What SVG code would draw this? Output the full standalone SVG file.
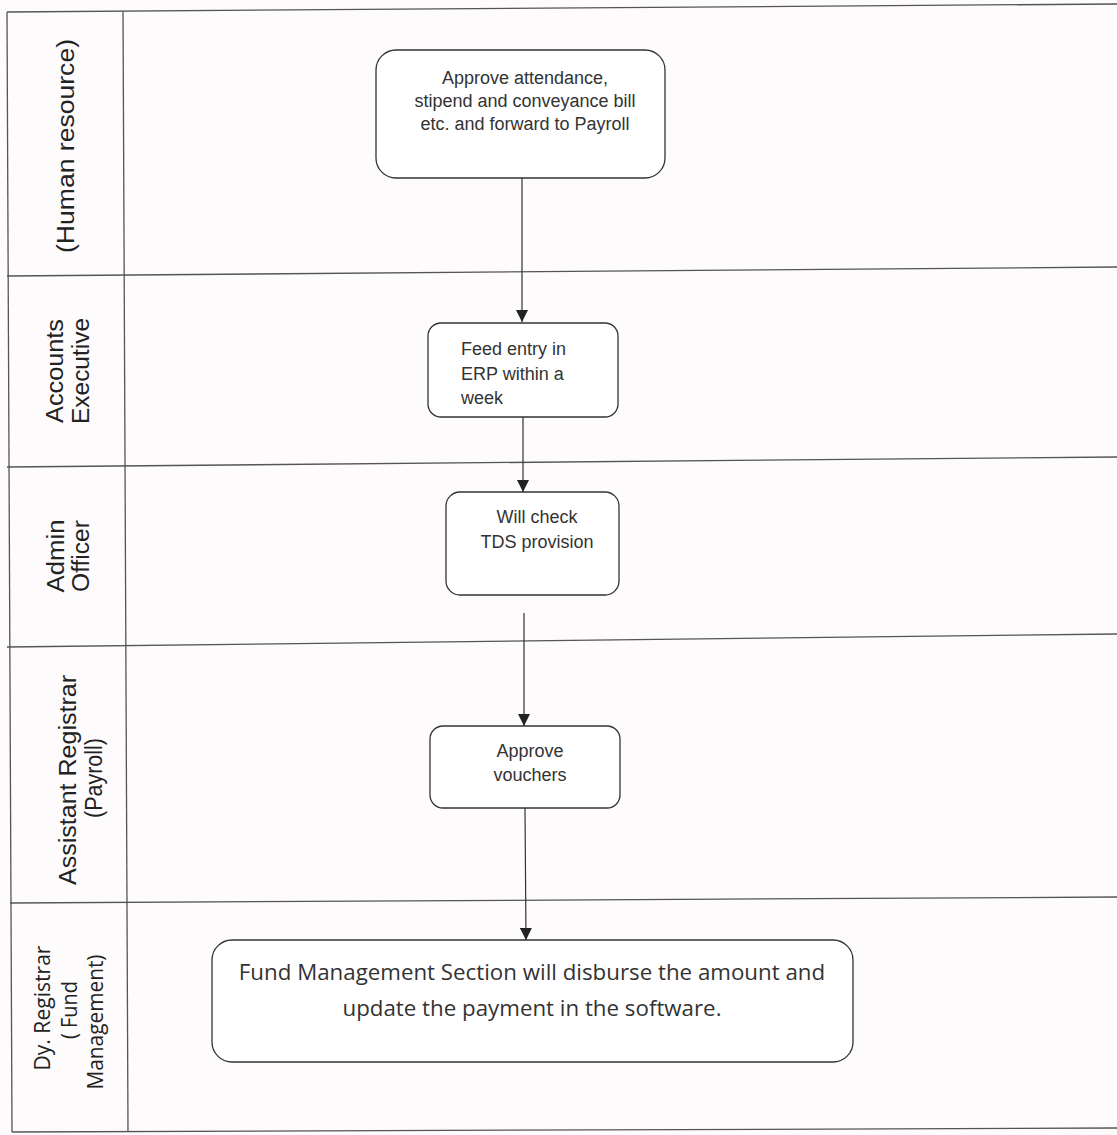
<svg xmlns="http://www.w3.org/2000/svg" width="1117" height="1135" viewBox="0 0 1117 1135">
  <defs>
    <marker id="arrow" markerUnits="userSpaceOnUse" markerWidth="13" markerHeight="12" refX="12" refY="6" orient="auto">
      <path d="M0,0 L12,6 L0,12 z" fill="#222"/>
    </marker>
    <style>
      .grid { stroke: #555; stroke-width: 1.3; fill: none; }
      .box { fill: #ffffff; stroke: #333; stroke-width: 1.3; }
      .conn { stroke: #333; stroke-width: 1.2; fill: none; marker-end: url(#arrow); }
      .lane { font-family: "Liberation Sans", Arial, sans-serif; font-size: 23px; fill: #222; text-anchor: middle; }
      .lane2 { font-family: "Open Sans", "Liberation Sans", sans-serif; font-size: 22px; fill: #222; text-anchor: middle; }
      .t { font-family: "Liberation Sans", Arial, sans-serif; font-size: 18px; fill: #333; }
      .tc { text-anchor: middle; }
      .t2 { font-family: "Open Sans", "Liberation Sans", sans-serif; font-size: 22.3px; fill: #333; text-anchor: middle; }
    </style>
  </defs>
  <rect x="0" y="0" width="1117" height="1135" fill="#fdfbfc"/>

  <g id="lanes">
    <line class="grid" x1="7" y1="12" x2="1117" y2="4"/>
    <line class="grid" x1="7" y1="276" x2="1117" y2="267"/>
    <line class="grid" x1="7" y1="467" x2="1117" y2="457"/>
    <line class="grid" x1="7" y1="647" x2="1117" y2="634"/>
    <line class="grid" x1="10" y1="903" x2="1117" y2="897"/>
    <line class="grid" x1="12" y1="1132" x2="1117" y2="1128"/>
    <line class="grid" x1="7" y1="12" x2="12" y2="1132"/>
    <line class="grid" x1="123" y1="11" x2="128" y2="1132"/>
    <text class="lane" transform="translate(74,146) rotate(-90)" textLength="214" lengthAdjust="spacingAndGlyphs">(Human resource)</text>
    <text class="lane" transform="translate(63,371) rotate(-90)" textLength="104" lengthAdjust="spacingAndGlyphs">Accounts</text>
    <text class="lane" transform="translate(89,371) rotate(-90)" textLength="106" lengthAdjust="spacingAndGlyphs">Executive</text>
    <text class="lane" transform="translate(64,556) rotate(-90)" textLength="73" lengthAdjust="spacingAndGlyphs">Admin</text>
    <text class="lane" transform="translate(89,556) rotate(-90)" textLength="72" lengthAdjust="spacingAndGlyphs">Officer</text>
    <text class="lane" transform="translate(76,780) rotate(-90)" textLength="210" lengthAdjust="spacingAndGlyphs">Assistant Registrar</text>
    <text class="lane" transform="translate(102,778) rotate(-90)" textLength="80" lengthAdjust="spacingAndGlyphs">(Payroll)</text>
    <text class="lane2" transform="translate(50,1008) rotate(-90)" textLength="125" lengthAdjust="spacingAndGlyphs">Dy. Registrar</text>
    <text class="lane2" transform="translate(77,1010) rotate(-90)" textLength="58" lengthAdjust="spacingAndGlyphs">( Fund</text>
    <text class="lane2" transform="translate(103,1022) rotate(-90)" textLength="135" lengthAdjust="spacingAndGlyphs">Management)</text>
  </g>

  <g id="connectors">
    <line class="conn" x1="522" y1="177" x2="522" y2="322"/>
    <line class="conn" x1="523" y1="417" x2="523" y2="492"/>
    <line class="conn" x1="524" y1="613" x2="524" y2="726"/>
    <line class="conn" x1="525" y1="808" x2="526" y2="940"/>
  </g>

  <g id="node-hr">
    <rect class="box" x="376" y="50" width="289" height="128" rx="20"/>
    <text class="t tc" x="525" y="84">Approve attendance,</text>
    <text class="t tc" x="525" y="107">stipend and conveyance bill</text>
    <text class="t tc" x="525" y="130">etc. and forward to Payroll</text>
  </g>

  <g id="node-feed">
    <rect class="box" x="428" y="323" width="190" height="94" rx="13"/>
    <text class="t" x="461" y="355">Feed entry in</text>
    <text class="t" x="461" y="380">ERP within a</text>
    <text class="t" x="461" y="404" font-size="16">week</text>
  </g>

  <g id="node-tds">
    <rect class="box" x="446" y="492" width="173" height="103" rx="14"/>
    <text class="t tc" x="537" y="523">Will check</text>
    <text class="t tc" x="537" y="548">TDS provision</text>
  </g>

  <g id="node-vouchers">
    <rect class="box" x="430" y="726" width="190" height="82" rx="13"/>
    <text class="t tc" x="530" y="757">Approve</text>
    <text class="t tc" x="530" y="781">vouchers</text>
  </g>

  <g id="node-fund">
    <rect class="box" x="212" y="940" width="641" height="122" rx="20"/>
    <text class="t2" x="532" y="980">Fund Management Section will disburse the amount and</text>
    <text class="t2" x="532" y="1016">update the payment in the software.</text>
  </g>
</svg>
